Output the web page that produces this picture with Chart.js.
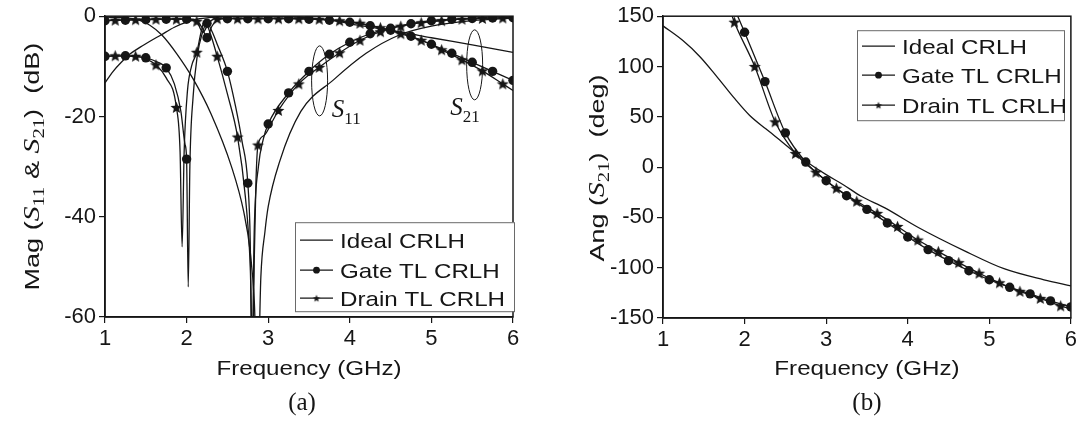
<!DOCTYPE html>
<html><head><meta charset="utf-8">
<script src="https://cdn.jsdelivr.net/npm/chart.js@4.4.1/dist/chart.umd.min.js"></script>
<style>
html,body{margin:0;padding:0;background:#fff;}
#wrap{position:relative;width:1080px;height:423px;overflow:hidden;background:#fff;}
canvas{position:absolute;top:0;}
</style></head><body>
<div id="wrap">
<canvas id="ca" width="540" height="423" style="left:0"></canvas>
<canvas id="cb" width="540" height="423" style="left:540px"></canvas>
</div>
<script>
// ---------------- data ----------------
const freqTicks = [1, 2, 3, 4, 5, 6];
const magTicks = [0, -20, -40, -60];
const angTicks = [150, 100, 50, 0, -50, -100, -150];
const seriesNames = ['Ideal CRLH', 'Gate TL CRLH', 'Drain TL CRLH'];

// marker frequencies (GHz) of the measured-style series
const gateMarkF = [1, 1.25, 1.5, 1.75, 2, 2.25, 2.5, 2.75, 3, 3.25, 3.5, 3.75, 4, 4.25, 4.5, 4.75, 5, 5.25, 5.5, 5.75, 6];
const drainMarkF = [1.125, 1.375, 1.625, 1.875, 2.125, 2.375, 2.625, 2.875, 3.125, 3.375, 3.625, 3.875, 4.125, 4.375, 4.625, 4.875, 5.125, 5.375, 5.625, 5.875];

// (a) magnitude, dB  [freq GHz, dB]
const idealS11 = [[1.0,-0.2],[1.2,-0.3],[1.4,-0.7],[1.55,-1.8],[1.7,-3.8],[1.88,-7.5],[2.08,-12.5],[2.3,-19.5],[2.55,-30],[2.7,-39],[2.78,-47],[2.83,-57],[2.87,-75],[2.91,-52],[2.96,-43],[3.0,-38],[3.14,-29],[3.4,-19],[3.8,-12.7],[4.2,-7.4],[4.6,-3.8],[5.0,-2.0],[5.5,-0.9],[6.0,-0.4]];
const idealS21 = [[1.0,-13.3],[1.1,-11.0],[1.2,-9.2],[1.31,-7.5],[1.47,-5.8],[1.69,-3.7],[1.85,-2.2],[2.0,-1.2],[2.16,-0.5],[2.4,-0.15],[2.8,0],[3.2,-0.1],[3.5,-0.35],[3.8,-0.9],[4.1,-1.8],[4.4,-2.6],[4.64,-3.2],[5.0,-4.3],[5.5,-5.7],[6.0,-7.2]];
const gateS11 = [[1.0,-8.0],[1.25,-7.9],[1.5,-8.3],[1.65,-9.2],[1.75,-10.3],[1.85,-13.5],[1.93,-19],[1.98,-25.5],[2.0,-28.5],[2.02,-54],[2.04,-30],[2.08,-16],[2.13,-8],[2.19,-3.5],[2.25,-1.4],[2.31,-3],[2.38,-5.8],[2.5,-11.0],[2.6,-18],[2.68,-25],[2.75,-33.3],[2.78,-45],[2.8,-70],[2.83,-42],[2.88,-30],[2.94,-24.5],[3.0,-21.5],[3.25,-15.3],[3.5,-11.0],[3.75,-7.6],[4.0,-5.2],[4.25,-3.5],[4.5,-2.4],[4.75,-1.5],[5.0,-0.9],[5.25,-0.6],[5.5,-0.45],[5.75,-0.35],[6.0,-0.3]];
const gateS21 = [[1.0,-0.9],[1.25,-0.8],[1.5,-0.7],[1.75,-0.6],[2.0,-0.6],[2.12,-0.9],[2.19,-2.3],[2.25,-4.3],[2.31,-2.0],[2.38,-0.8],[2.5,-0.5],[2.75,-0.5],[3.0,-0.5],[3.25,-0.5],[3.5,-0.6],[3.75,-0.8],[4.0,-1.2],[4.25,-1.9],[4.5,-2.8],[4.75,-4.0],[5.0,-5.6],[5.25,-7.4],[5.5,-9.2],[5.75,-11.0],[6.0,-12.8]];
const drainS11 = [[1.0,-8.0],[1.125,-7.9],[1.375,-8.0],[1.5,-8.5],[1.625,-9.7],[1.75,-12.3],[1.875,-18.2],[1.92,-27],[1.945,-46],[1.97,-27],[2.01,-15],[2.06,-10],[2.125,-7.2],[2.18,-3],[2.22,-1.0],[2.27,-2.5],[2.375,-8.0],[2.5,-15.5],[2.625,-24.1],[2.72,-36],[2.78,-50],[2.81,-68],[2.83,-48],[2.85,-33],[2.875,-25.7],[2.95,-23.8],[3.05,-21],[3.125,-18.8],[3.375,-13.5],[3.625,-10.2],[3.875,-7.3],[4.125,-4.8],[4.375,-3.1],[4.625,-2.0],[4.875,-1.3],[5.125,-0.9],[5.375,-0.6],[5.625,-0.45],[5.875,-0.35],[6.0,-0.3]];
const drainS21 = [[1.0,-0.9],[1.125,-0.8],[1.375,-0.7],[1.625,-0.6],[1.875,-0.6],[2.08,-0.6],[2.125,-1.0],[2.2,-3.2],[2.27,-1.4],[2.33,-0.6],[2.375,-0.5],[2.625,-0.5],[2.875,-0.5],[3.125,-0.5],[3.375,-0.5],[3.625,-0.6],[3.875,-0.9],[4.125,-1.4],[4.375,-2.3],[4.625,-3.5],[4.875,-4.8],[5.125,-6.7],[5.375,-8.7],[5.625,-10.9],[5.875,-13.5],[6.0,-14.8]];

// (b) phase of S21, deg  [freq GHz, deg]
const idealAng = [[1.0,140.4],[1.24,126],[1.45,110],[1.65,91],[1.88,68],[2.06,51.6],[2.26,38],[2.46,25],[2.63,13.5],[2.8,3],[3.0,-7.5],[3.2,-17],[3.43,-29],[3.72,-40.5],[4.13,-60],[4.69,-83],[5.18,-101],[5.67,-112],[6.0,-118]];
const gateAng = [[1.9,153],[2.0,134],[2.25,85],[2.5,34],[2.75,5],[3.0,-13.5],[3.25,-28.5],[3.5,-42],[3.75,-55.5],[4.0,-69.5],[4.25,-82],[4.5,-93],[4.75,-103],[5.0,-112],[5.25,-119.5],[5.5,-126],[5.75,-133],[6.0,-139]];
const drainAng = [[1.84,152],[1.875,144],[2.125,100],[2.375,45],[2.625,13.5],[2.875,-5],[3.125,-21],[3.375,-34],[3.625,-46],[3.875,-59],[4.125,-72.5],[4.375,-84],[4.625,-95],[4.875,-105.5],[5.125,-115],[5.375,-123.5],[5.625,-130.5],[5.875,-138],[6.0,-141]];

// ---------------- helpers ----------------
const INK = '#161616';
const SANS = '"Liberation Sans", Arial, sans-serif';
const SERIF = '"Liberation Serif", "Times New Roman", serif';
const toXY = a => a.map(([x, y]) => ({x, y}));
const pick = (a, fs) => a.filter(p => fs.some(f => Math.abs(f - p[0]) < 1e-9));

function makeStar(r) {
  const s = Math.ceil(r * 2 + 2);
  const c = document.createElement('canvas');
  c.width = c.height = s;
  const g = c.getContext('2d');
  g.translate(s / 2, s / 2 + r * 0.08);
  g.beginPath();
  for (let i = 0; i < 10; i++) {
    const rad = i % 2 ? r * 0.44 : r;
    const ang = -Math.PI / 2 + i * Math.PI / 5;
    g.lineTo(rad * Math.cos(ang), rad * Math.sin(ang));
  }
  g.closePath();
  g.fillStyle = INK;
  g.fill();
  return c;
}
const starBig = makeStar(6.3);
const starSmall = makeStar(3.8);

const lineDs = arr => ({data: toXY(arr), borderColor: INK, borderWidth: 1.3, pointRadius: 0, pointHoverRadius: 0,
  cubicInterpolationMode: 'monotone', fill: false});
const circleDs = arr => ({data: toXY(arr), showLine: false, pointStyle: 'circle', pointRadius: 4.7, pointHoverRadius: 4.7,
  backgroundColor: INK, borderColor: INK, borderWidth: 0});
const starDs = arr => ({data: toXY(arr), showLine: false, pointStyle: starBig, pointRadius: 5, pointHoverRadius: 5,
  backgroundColor: INK, borderColor: INK, borderWidth: 0});

function drawRich(ctx, segs, x, y, opt) {
  opt = opt || {};
  let W = 0;
  for (const s of segs) { ctx.font = s.f; s.w = ctx.measureText(s.t).width; W += s.w; }
  const k = opt.target ? opt.target / W : (opt.k || 1);
  ctx.save();
  ctx.translate(x, y);
  if (opt.rot) ctx.rotate(-Math.PI / 2);
  ctx.scale(k, 1);
  let cx = opt.align === 'l' ? 0 : -W / 2;
  ctx.textBaseline = 'alphabetic';
  ctx.fillStyle = INK;
  for (const s of segs) { ctx.font = s.f; ctx.fillText(s.t, cx, s.dy || 0); cx += s.w; }
  ctx.restore();
}

function drawLegend(ctx, box, rows) {
  ctx.save();
  ctx.fillStyle = '#fff';
  ctx.fillRect(box.x, box.y, box.w, box.h);
  ctx.strokeStyle = '#6a6a6a';
  ctx.lineWidth = 1;
  ctx.strokeRect(box.x + 0.5, box.y + 0.5, box.w, box.h);
  rows.forEach((r, i) => {
    const yy = box.y + r;
    ctx.strokeStyle = INK; ctx.lineWidth = 1.3;
    ctx.beginPath(); ctx.moveTo(box.x + 5, yy); ctx.lineTo(box.x + 38, yy); ctx.stroke();
    const mx = box.x + 21.5;
    if (i === 1) { ctx.fillStyle = INK; ctx.beginPath(); ctx.arc(mx, yy, 3.4, 0, Math.PI * 2); ctx.fill(); }
    if (i === 2) { ctx.drawImage(starSmall, mx - starSmall.width / 2, yy - starSmall.height / 2); }
    drawRich(ctx, [{t: seriesNames[i], f: '21px ' + SANS}], box.x + 45, yy + 7.5, {align: 'l', k: 1.15});
  });
  ctx.restore();
}

function frame(chart) {
  const {ctx, chartArea: a} = chart;
  ctx.save();
  ctx.strokeStyle = INK; ctx.lineWidth = 1.5;
  ctx.strokeRect(a.left, a.top, a.right - a.left, a.bottom - a.top);
  ctx.restore();
}

const decorA = {
  id: 'decorA',
  afterDraw(chart) {
    const {ctx, chartArea: a, scales: {x, y}} = chart;
    frame(chart);
    // ellipses around the S11 / S21 groups
    ctx.save();
    ctx.strokeStyle = INK; ctx.lineWidth = 1;
    ctx.beginPath(); ctx.ellipse(x.getPixelForValue(3.63), y.getPixelForValue(-12.9), 8, 35, 0, 0, Math.PI * 2); ctx.stroke();
    ctx.beginPath(); ctx.ellipse(x.getPixelForValue(5.53), y.getPixelForValue(-9.7), 8, 35, 0, 0, Math.PI * 2); ctx.stroke();
    ctx.restore();
    drawRich(ctx, [{t: 'S', f: 'italic 25px ' + SERIF}, {t: '11', f: '17px ' + SERIF, dy: 7}],
      x.getPixelForValue(3.78), y.getPixelForValue(-20.2), {align: 'l'});
    drawRich(ctx, [{t: 'S', f: 'italic 25px ' + SERIF}, {t: '21', f: '17px ' + SERIF, dy: 7}],
      x.getPixelForValue(5.23), y.getPixelForValue(-19.8), {align: 'l'});
    drawLegend(ctx, {x: a.left + 190, y: a.top + 206, w: 219, h: 89}, [18, 48, 76]);
    const cx = (a.left + a.right) / 2;
    drawRich(ctx, [{t: 'Frequency (GHz)', f: '21px ' + SANS}], cx, a.bottom + 58, {k: 1.15});
    drawRich(ctx, [{t: '(a)', f: '25px ' + SERIF}], cx - 7, a.bottom + 93, {});
    drawRich(ctx, [
      {t: 'Mag (', f: '21px ' + SANS},
      {t: 'S', f: 'italic 23px ' + SERIF},
      {t: '11', f: '16px ' + SERIF, dy: 5},
      {t: ' & ', f: '21px ' + SANS},
      {t: 'S', f: 'italic 23px ' + SERIF},
      {t: '21', f: '16px ' + SERIF, dy: 5},
      {t: ')  (dB)', f: '21px ' + SANS}
    ], 38.5, (a.top + a.bottom) / 2, {rot: true, target: 248});
  }
};

const decorB = {
  id: 'decorB',
  afterDraw(chart) {
    const {ctx, chartArea: a} = chart;
    frame(chart);
    drawLegend(ctx, {x: a.left + 194, y: a.top + 14, w: 207, h: 90}, [16, 45, 75]);
    const cx = (a.left + a.right) / 2;
    drawRich(ctx, [{t: 'Frequency (GHz)', f: '21px ' + SANS}], cx, a.bottom + 57, {k: 1.15});
    drawRich(ctx, [{t: '(b)', f: '25px ' + SERIF}], cx, a.bottom + 92, {});
    drawRich(ctx, [
      {t: 'Ang (', f: '21px ' + SANS},
      {t: 'S', f: 'italic 23px ' + SERIF},
      {t: '21', f: '16px ' + SERIF, dy: 5},
      {t: ')  (deg)', f: '21px ' + SANS}
    ], 56 + 7.5, 168, {rot: true, target: 187});
  }
};

function axes(yMin, yMax, yTickVals, yWidth, xHeight) {
  const tickFont = {family: SANS, size: 22};
  return {
    x: {
      type: 'linear', min: 1, max: 6,
      afterBuildTicks: s => { s.ticks = freqTicks.map(v => ({value: v})); },
      ticks: {font: tickFont, color: INK, padding: 3, maxRotation: 0, callback: v => String(v)},
      grid: {drawOnChartArea: false, drawTicks: true, tickLength: 6, color: INK, lineWidth: 1.2},
      border: {display: true, color: INK, width: 1.5},
      afterFit: s => { s.height = xHeight; }
    },
    y: {
      type: 'linear', min: yMin, max: yMax,
      afterBuildTicks: s => { s.ticks = yTickVals.map(v => ({value: v})); },
      ticks: {font: tickFont, color: INK, padding: 3, callback: v => String(v)},
      grid: {drawOnChartArea: false, drawTicks: true, tickLength: 6, color: INK, lineWidth: 1.2},
      border: {display: true, color: INK, width: 1.5},
      afterFit: s => { s.width = yWidth; }
    }
  };
}

const common = {
  responsive: false, animation: false, devicePixelRatio: 1,
  plugins: {legend: {display: false}, tooltip: {enabled: false}},
  events: []
};

new Chart(document.getElementById('ca'), {
  type: 'line',
  data: {datasets: [
    lineDs(idealS11), lineDs(idealS21),
    lineDs(gateS11), lineDs(gateS21), lineDs(drainS11), lineDs(drainS21),
    circleDs(pick(gateS11, gateMarkF)), circleDs(pick(gateS21, gateMarkF)),
    starDs(pick(drainS11, drainMarkF)), starDs(pick(drainS21, drainMarkF))
  ]},
  options: Object.assign({}, common, {
    layout: {padding: {left: 0, right: 27, top: 12.7, bottom: 0}},
    scales: axes(-60, 0, magTicks, 105, 106)
  }),
  plugins: [decorA]
});

new Chart(document.getElementById('cb'), {
  type: 'line',
  data: {datasets: [
    lineDs(idealAng), lineDs(gateAng), lineDs(drainAng),
    circleDs(pick(gateAng, gateMarkF)), starDs(pick(drainAng, drainMarkF))
  ]},
  options: Object.assign({}, common, {
    layout: {padding: {left: 0, right: 6, top: 13, bottom: 0}},
    scales: axes(-150, 150, angTicks, 123, 105)
  }),
  plugins: [decorB]
});
</script>
</body></html>
